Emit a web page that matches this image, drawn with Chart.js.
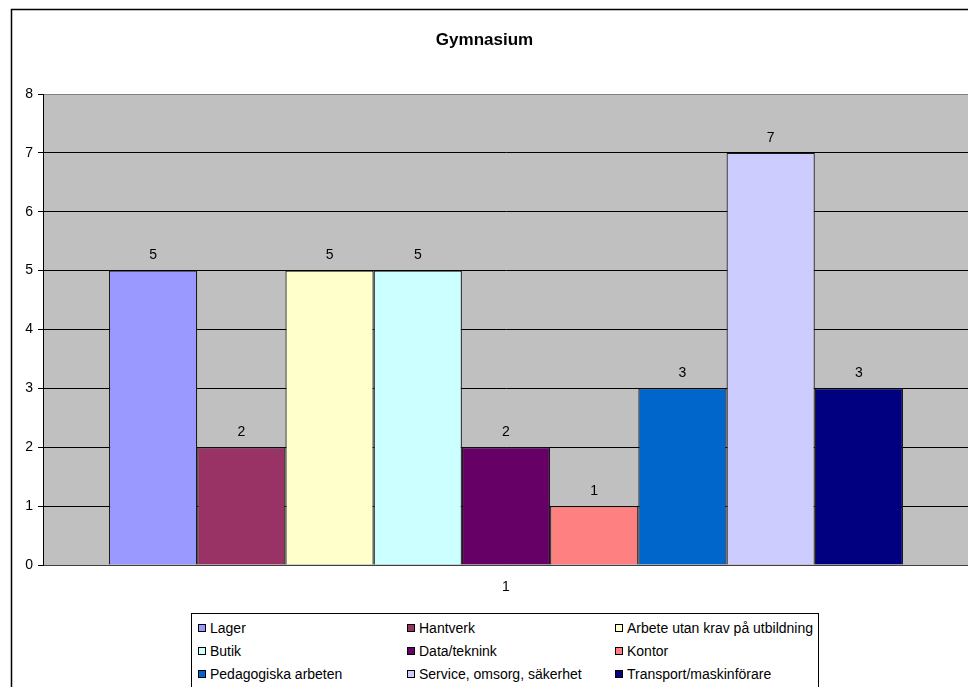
<!DOCTYPE html>
<html>
<head>
<meta charset="utf-8">
<script src="https://cdn.jsdelivr.net/npm/chart.js@4"></script>
<style>
  html, body { margin: 0; padding: 0; background: #fff; overflow: hidden; width: 968px; height: 687px; }
  #wrap { position: absolute; left: 0; top: 0; width: 994px; height: 687px; }
  #legend {
    position: absolute; left: 191px; top: 613px; width: 628px; height: 100px;
    border: 1px solid #000; background: #fff; padding: 2px 0 0 6px; box-sizing: border-box;
    font: 14px "Liberation Sans", Arial, sans-serif; color: #000;
    display: grid; grid-template-columns: 209px 208px 204px; grid-auto-rows: 23px;
  }
  #legend .item { display: flex; align-items: center; white-space: nowrap; }
  #legend .box { width: 6px; height: 6px; border: 1px solid #000; margin-right: 4px; flex: none; }
</style>
</head>
<body>
<div id="wrap"><canvas id="chart"></canvas></div>
<div id="legend"></div>
<script>
const categories = ["1"];
const seriesNames = ["Lager", "Hantverk", "Arbete utan krav på utbildning", "Butik", "Data/teknink",
  "Kontor", "Pedagogiska arbeten", "Service, omsorg, säkerhet", "Transport/maskinförare"];
const seriesValues = [5, 2, 5, 5, 2, 1, 3, 7, 3];
const seriesColors = ["#9999FF", "#993366", "#FFFFCC", "#CCFFFF", "#660066",
  "#FF8080", "#0066CC", "#CCCCFF", "#000080"];
const yTicks = [0, 1, 2, 3, 4, 5, 6, 7, 8];

const font = "'Liberation Sans', Arial, sans-serif";

// frame + grey plot background
const backdrop = {
  id: "backdrop",
  beforeDraw(chart) {
    const { ctx, chartArea: a } = chart;
    ctx.save();
    ctx.strokeStyle = "#000";
    ctx.lineWidth = 1.5;
    ctx.strokeRect(11.5, 9.5, 2000, 2000);
    ctx.fillStyle = "#C0C0C0";
    ctx.fillRect(a.left, a.top, a.right - a.left, a.bottom - a.top);
    ctx.strokeStyle = "#808080";
    ctx.lineWidth = 1;
    ctx.strokeRect(a.left + 0.5, a.top + 0.5, a.right - a.left, a.bottom - a.top);
    ctx.restore();
  }
};

// value labels above bars
const valueLabels = {
  id: "valueLabels",
  afterDatasetsDraw(chart) {
    const ctx = chart.ctx;
    ctx.save();
    ctx.font = "14px " + font;
    ctx.fillStyle = "#000";
    ctx.textAlign = "center";
    ctx.textBaseline = "middle";
    chart.data.datasets.forEach((ds, i) => {
      chart.getDatasetMeta(i).data.forEach((bar, j) => {
        ctx.fillText(String(ds.data[j]), bar.x, bar.y - 15);
      });
    });
    ctx.restore();
  }
};

const ctx = document.getElementById("chart").getContext("2d");
new Chart(ctx, {
  type: "bar",
  data: {
    labels: categories,
    datasets: seriesNames.map((name, i) => ({
      label: name,
      data: [seriesValues[i]],
      backgroundColor: seriesColors[i],
      borderColor: "#1a1a1a",
      borderWidth: 1.2,
      categoryPercentage: 0.8575,
      barPercentage: 1
    }))
  },
  options: {
    responsive: true,
    maintainAspectRatio: false,
    animation: false,
    layout: { padding: { left: 0, right: 25, top: 0, bottom: 92 } },
    plugins: {
      legend: { display: false },
      tooltip: { enabled: false },
      title: {
        display: true,
        text: "Gymnasium",
        color: "#000",
        font: { family: font, size: 17, weight: "bold" },
        padding: { top: 30, bottom: 43.6 }
      }
    },
    scales: {
      x: {
        grid: { display: false, drawTicks: false },
        border: { color: "#404040", width: 1 },
        ticks: { color: "#000", font: { family: font, size: 14 }, padding: 14 },
        afterFit(scale) { scale.height = 30; }
      },
      y: {
        min: 0,
        max: 8,
        afterBuildTicks(scale) { scale.ticks = yTicks.map(v => ({ value: v })); },
        grid: {
          color: c => (c.tick && c.tick.value === 8 ? "#808080" : "#000"),
          tickColor: "#000",
          tickLength: 5,
          lineWidth: 1
        },
        border: { color: "#000", width: 1 },
        ticks: { color: "#000", font: { family: font, size: 14 }, padding: 5 },
        afterFit(scale) { scale.width = 43; }
      }
    }
  },
  plugins: [backdrop, valueLabels]
});

// legend in three columns, like the original
const legend = document.getElementById("legend");
seriesNames.forEach((name, i) => {
  const item = document.createElement("div");
  item.className = "item";
  const box = document.createElement("span");
  box.className = "box";
  box.style.background = seriesColors[i];
  item.appendChild(box);
  item.appendChild(document.createTextNode(name));
  legend.appendChild(item);
});
</script>
</body>
</html>
